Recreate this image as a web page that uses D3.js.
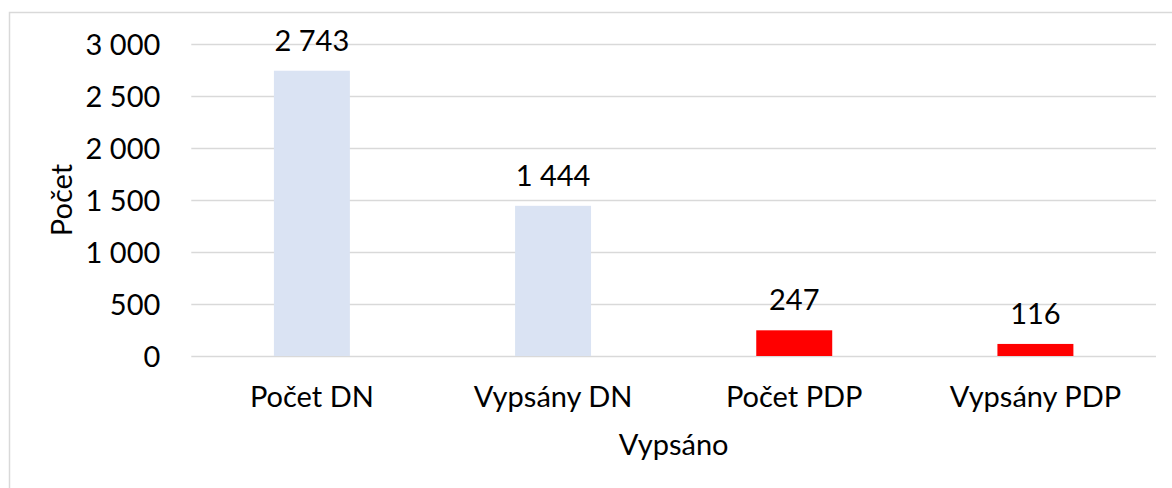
<!DOCTYPE html>
<html><head><meta charset="utf-8">
<script src="https://cdn.jsdelivr.net/npm/d3@7"></script>
<style>
html,body{margin:0;padding:0;background:#fff;overflow:hidden}
text{font-family:Lato,"Open Sans",sans-serif;fill:#000}
</style></head>
<body>
<svg id="chart" width="1172" height="488"></svg>
<script>
const categories = ["Počet DN","Vypsány DN","Počet PDP","Vypsány PDP"];
const values = [2743,1444,247,116];
const barColors = ["#DAE3F3","#DAE3F3","#FF0000","#FF0000"];
const yTicks = [0,500,1000,1500,2000,2500,3000];
const yTitle = "Počet";
const xTitle = "Vypsáno";

const loc = d3.formatLocale({decimal:",",thousands:"\u00a0",grouping:[3],currency:["",""]});
const fmt = loc.format(",d");

const svg = d3.select("#chart");
const W=1172,H=488;
const m={left:191.3,right:W-1156,top:44,bottom:H-356};

svg.append("rect").attr("x",9.5).attr("y",12.5).attr("width",1200).attr("height",600)
  .attr("fill","none").attr("stroke","#D9D9D9").attr("stroke-width",1.5);

const x=d3.scaleBand().domain(categories).range([m.left,W-m.right]).paddingInner(0.685).paddingOuter(0.3425);
const y=d3.scaleLinear().domain([0,3000]).range([H-m.bottom,m.top]);

const fs=29;
// grid
const ga=svg.append("g").attr("transform",`translate(${m.left},0)`)
  .call(d3.axisLeft(y).tickValues(yTicks).tickSize(-(W-m.right-m.left)).tickFormat(fmt).tickPadding(31));
ga.select(".domain").remove();
ga.selectAll(".tick line").attr("stroke","#D9D9D9").attr("stroke-width",1.5);
ga.selectAll(".tick text").attr("font-size",fs).attr("font-family","Lato").attr("fill","#000").attr("dy","0.36em");

// x labels
const xa=svg.append("g").attr("transform",`translate(0,${H-m.bottom})`)
  .call(d3.axisBottom(x).tickSize(0).tickPadding(0));
xa.select(".domain").remove();
xa.selectAll(".tick text").attr("font-size",fs).attr("font-family","Lato").attr("fill","#000").attr("dy",null).attr("y",51);

// bars
svg.append("g").selectAll("rect").data(values).join("rect")
  .attr("x",(d,i)=>x(categories[i])).attr("width",x.bandwidth())
  .attr("y",d=>y(d)).attr("height",d=>y(0)-y(d))
  .attr("fill",(d,i)=>barColors[i]);

// value labels
svg.append("g").selectAll("text").data(values).join("text")
  .attr("x",(d,i)=>x(categories[i])+x.bandwidth()/2).attr("y",d=>y(d)-20)
  .attr("text-anchor","middle").attr("font-size",fs).text(d=>fmt(d));

// titles
svg.append("text").attr("x",(m.left+W-m.right)/2).attr("y",455).attr("text-anchor","middle").attr("font-size",fs).text(xTitle);
svg.append("text").attr("transform",`translate(72,${(m.top+H-m.bottom)/2}) rotate(-90)`).attr("text-anchor","middle").attr("font-size",fs).text(yTitle);
</script>
</body></html>
